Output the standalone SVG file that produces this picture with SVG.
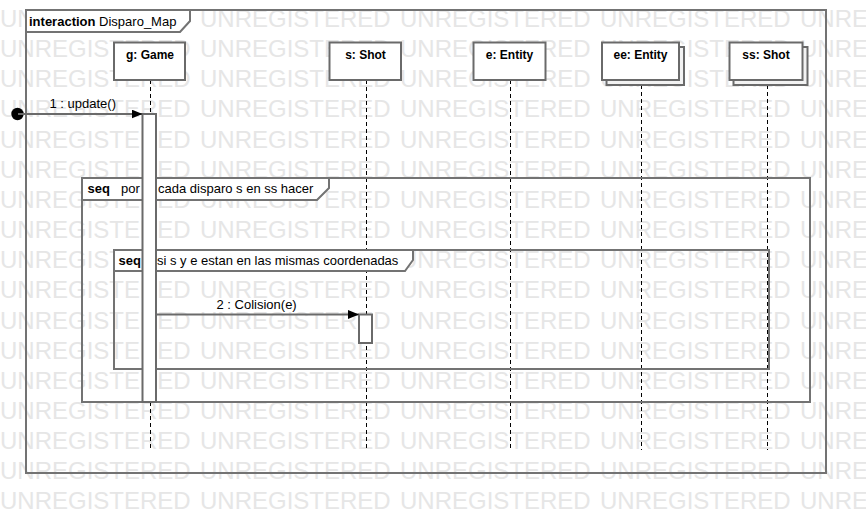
<svg xmlns="http://www.w3.org/2000/svg" width="866" height="514" viewBox="0 0 866 514">
<style>
text{font-family:"Liberation Sans",Arial,sans-serif;fill:#000}
.wm{font-size:24px;fill:#e6e6e6}
.lbl{font-size:13px}
.b{font-weight:bold}
.box{fill:#fff;stroke:#6a6a6a;stroke-width:2}
.shadow{fill:#f2f2f2;stroke:#6a6a6a;stroke-width:2}
.frame{fill:none;stroke:#737373;stroke-width:2}
.tab{fill:#fff;stroke:#737373;stroke-width:2}
.life{stroke:#000;stroke-width:1;stroke-dasharray:4,3}
.act{fill:#fff;stroke:#6a6a6a;stroke-width:2}
.msg{stroke:#6a6a6a;stroke-width:2;fill:none}
.name{font-size:12px;font-weight:bold;text-anchor:middle}
</style>
<defs>
<g id="wmrow">
<text class="wm" x="0" y="0">UNREGISTERED</text>
<text class="wm" x="200" y="0">UNREGISTERED</text>
<text class="wm" x="400" y="0">UNREGISTERED</text>
<text class="wm" x="600" y="0">UNREGISTERED</text>
<text class="wm" x="800" y="0">UNREGISTERED</text>
</g>
<marker id="arr" markerWidth="12" markerHeight="10" refX="11" refY="4.5" orient="auto" markerUnits="userSpaceOnUse">
<path d="M0,0 L11,4.5 L0,9 Z" fill="#000"/>
</marker>
</defs>
<rect width="866" height="514" fill="#fff"/>
<g id="watermark">
<use href="#wmrow" y="27"/>
<use href="#wmrow" y="57.15"/>
<use href="#wmrow" y="87.3"/>
<use href="#wmrow" y="117.45"/>
<use href="#wmrow" y="147.6"/>
<use href="#wmrow" y="177.75"/>
<use href="#wmrow" y="207.9"/>
<use href="#wmrow" y="238.05"/>
<use href="#wmrow" y="268.2"/>
<use href="#wmrow" y="298.35"/>
<use href="#wmrow" y="328.5"/>
<use href="#wmrow" y="358.65"/>
<use href="#wmrow" y="388.8"/>
<use href="#wmrow" y="418.95"/>
<use href="#wmrow" y="449.1"/>
<use href="#wmrow" y="479.25"/>
<use href="#wmrow" y="509.4"/>
</g>
<g id="frame">
<rect class="frame" x="26" y="10" width="800" height="463"/>
<path class="tab" d="M26,10 H190 V21 L180,32 H26 Z"/>
<text class="lbl" x="29" y="26"><tspan class="b">interaction</tspan> Disparo_Map</text>
</g>
<g id="lifelines">
<g id="g_game">
<line class="life" x1="150.5" y1="80" x2="150.5" y2="450"/>
<rect class="box" x="114" y="42.5" width="71" height="37.5"/>
<text class="name" x="150" y="58.5">g: Game</text>
</g>
<g id="s_shot">
<line class="life" x1="366.5" y1="80" x2="366.5" y2="450"/>
<rect class="box" x="329.5" y="42.5" width="71.5" height="37.5"/>
<text class="name" x="365.5" y="58.5">s: Shot</text>
</g>
<g id="e_entity">
<line class="life" x1="510.5" y1="80" x2="510.5" y2="450"/>
<rect class="box" x="473.5" y="42.5" width="72" height="37.5"/>
<text class="name" x="509.5" y="58.5">e: Entity</text>
</g>
<g id="ee_entity">
<line class="life" x1="641.5" y1="85" x2="641.5" y2="450"/>
<rect class="shadow" x="606.5" y="47" width="77.5" height="38"/>
<rect class="box" x="602" y="42.5" width="77" height="37.5"/>
<text class="name" x="640.5" y="58.5">ee: Entity</text>
</g>
<g id="ss_shot">
<line class="life" x1="767.5" y1="85" x2="767.5" y2="450"/>
<rect class="shadow" x="733.5" y="47" width="74" height="38"/>
<rect class="box" x="729.5" y="42.5" width="73" height="37.5"/>
<text class="name" x="766" y="58.5">ss: Shot</text>
</g>
</g>
<g id="fragments">
<g id="seq1">
<rect class="frame" x="82" y="178" width="728" height="224"/>
<path class="tab" d="M82,178 H329 V188 L317,200 H82 Z"/>
<text class="lbl"><tspan class="b" x="87.5" y="193">seq</tspan><tspan x="121" y="193">por</tspan><tspan x="158" y="193">cada disparo s en ss hacer</tspan></text>
</g>
<g id="seq2">
<rect class="frame" x="114" y="250" width="655" height="119"/>
<path class="tab" d="M114,250 H413 V260 L405,271 H114 Z"/>
<text class="lbl"><tspan class="b" x="118.5" y="265">seq</tspan><tspan x="157" y="265">si s y e estan en las mismas coordenadas</tspan></text>
</g>
</g>
<g id="activations">
<rect class="act" x="142.5" y="114" width="13.5" height="288"/>
<rect class="act" x="359" y="314.5" width="13" height="28.5"/>
</g>
<g id="connectors">
<circle cx="17.5" cy="114" r="6.2" fill="#000"/>
<line class="msg" x1="18" y1="114" x2="142.5" y2="114" marker-end="url(#arr)"/>
<text class="lbl" x="49.5" y="108">1 : update()</text>
<line class="msg" x1="156" y1="314.5" x2="359" y2="314.5" marker-end="url(#arr)"/>
<text class="lbl" x="216.5" y="309">2 : Colision(e)</text>
</g>
</svg>
